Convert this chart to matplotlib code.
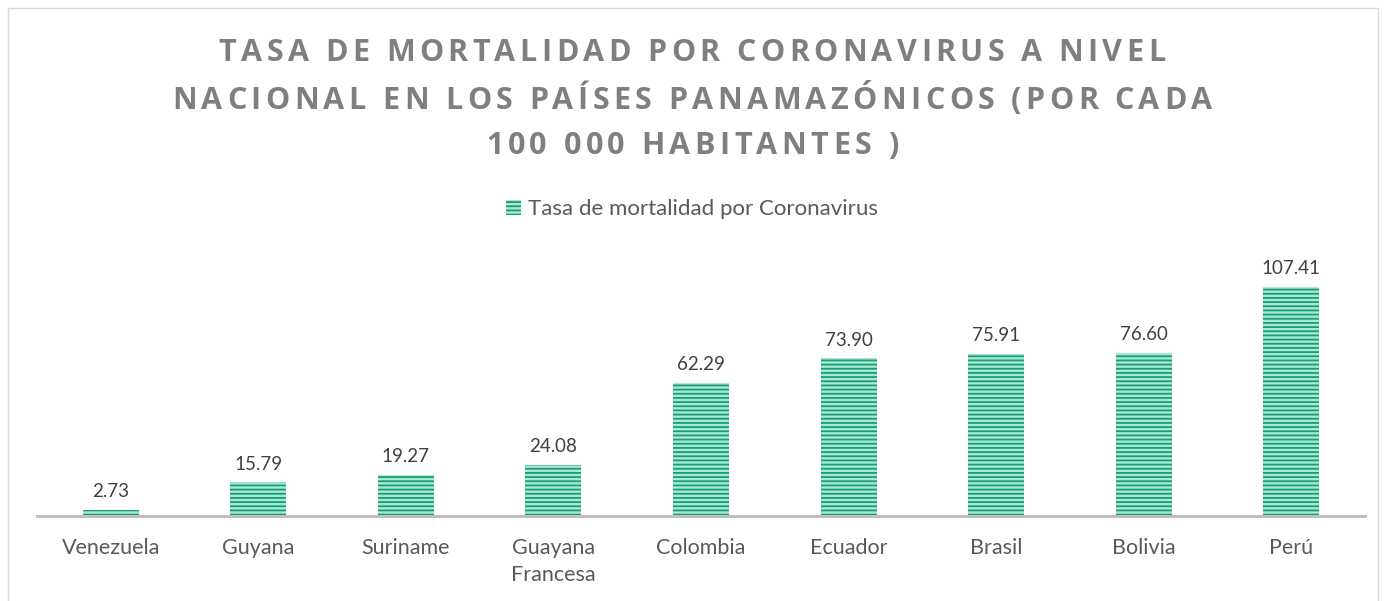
import matplotlib
matplotlib.use('Agg')
import matplotlib.pyplot as plt
from matplotlib.patches import Rectangle

paises = ['Venezuela', 'Guyana', 'Suriname', 'Guayana\nFrancesa', 'Colombia',
          'Ecuador', 'Brasil', 'Bolivia', 'Perú']
tasas = [2.73, 15.79, 19.27, 24.08, 62.29, 73.90, 75.91, 76.60, 107.41]
titulo = ['TASA DE MORTALIDAD POR CORONAVIRUS A NIVEL',
          'NACIONAL EN LOS PAÍSES PANAMAZÓNICOS (POR CADA',
          '100 000 HABITANTES )']
serie = 'Tasa de mortalidad por Coronavirus'

plt.rcParams['font.family'] = ['Lato', 'DejaVu Sans']
plt.rcParams['hatch.linewidth'] = 1.3

verde_claro = '#a6e9d4'
verde = '#1a9c78'

fig = plt.figure(figsize=(13.84, 6.01), dpi=100)
ax = fig.add_axes([0.0267, 0.1414, 0.9596, 0.4593])

x = range(len(paises))
bars = ax.bar(x, tasas, width=0.38, color=verde_claro, edgecolor=verde,
              hatch='----', linewidth=0, label=serie)

for xi, v in zip(x, tasas):
    ax.annotate(f'{v:.2f}', (xi, v), xytext=(0, 7), textcoords='offset points',
                ha='center', va='bottom', fontsize=13.5, color='#404040')

ax.set_xlim(-0.5, len(paises) - 0.5)
ax.set_ylim(0, 129.4)
ax.set_xticks(list(x))
ax.set_xticklabels(paises, fontsize=15.5, color='#595959', linespacing=1.45)
ax.tick_params(axis='x', length=0, pad=16)
ax.set_yticks([])
for s in ['top', 'left', 'right']:
    ax.spines[s].set_visible(False)
ax.spines['bottom'].set_color('#bfbfbf')
ax.spines['bottom'].set_linewidth(2.2)

leg = fig.legend(handles=[bars], labels=[serie], loc='center', bbox_to_anchor=(0.5, 0.652),
                 frameon=False, fontsize=16, handlelength=0.65, handleheight=0.65,
                 handletextpad=0.3, labelcolor='#595959')

# title with letter spacing, drawn char by char
renderer = fig.canvas.get_renderer()
title_kw = dict(fontsize=22, fontweight='bold', color='#7f7f7f',
                family=['Open Sans', 'DejaVu Sans'])
spacing = 4.4  # px between letters
W = fig.bbox.width
H = fig.bbox.height


def ancho(s):
    t = fig.text(0, 0, s, **title_kw)
    w = t.get_window_extent(renderer).width
    t.remove()
    return w


w_space = ancho('A A') - ancho('AA')
ys = [0.912, 0.832, 0.757]
for linea, y in zip(titulo, ys):
    widths = [w_space if c == ' ' else ancho(c) for c in linea]
    total = sum(widths) + spacing * (len(linea) - 1)
    xpos = W / 2 - total / 2
    for c, w in zip(linea, widths):
        if c != ' ':
            fig.text(xpos / W, y, c, ha='left', va='center', **title_kw)
        xpos += w + spacing

fig.patches.append(Rectangle((8 / 1384, -0.01), 1370 / 1384, 1 - 8 / 601 + 0.01,
                             transform=fig.transFigure, fill=False,
                             edgecolor='#d9d9d9', linewidth=1))

fig.savefig('out.png', dpi=100)
